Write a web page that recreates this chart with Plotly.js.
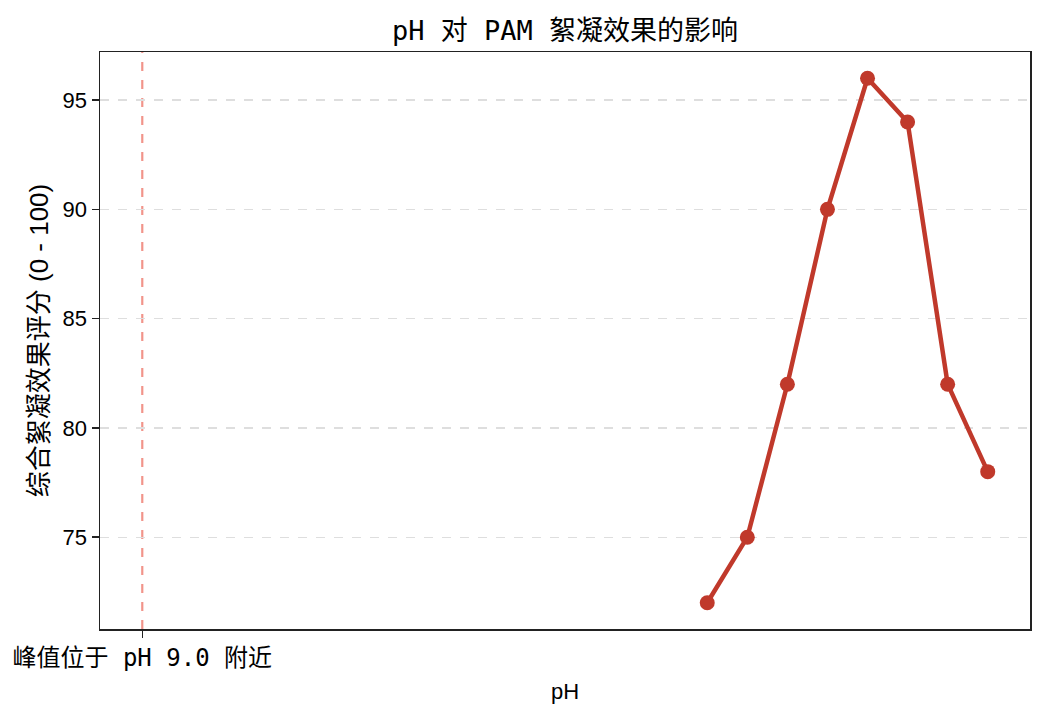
<!DOCTYPE html>
<html>
<head>
<meta charset="utf-8">
<script src="https://cdn.plot.ly/plotly-3.0.1.min.js"></script>
<style>
  body { margin: 0; background: #fff; }
  #chart { width: 1044px; height: 717px; }
</style>
</head>
<body>
<div id="chart"></div>
<script>
// pH test points and flocculation score
var phValues = [5, 6, 7, 8, 9, 10, 11, 12];
var scores = [72, 75, 82, 90, 96, 94, 82, 78];

// position of the peak marker line and its tick text
var peakLineX = -9.1;
var peakLabel = '峰值位于 pH 9.0 附近';

var yTicks = [75, 80, 85, 90, 95];

// monospace latin + CJK fallback, like SimHei
var mono = '"DejaVu Sans Mono", "Noto Sans CJK SC", monospace';
var sans = '"Liberation Sans", "Noto Sans CJK SC", sans-serif';

var curve = {
    type: 'scatter',
    x: phValues,
    y: scores,
    mode: 'lines+markers',
    line: { color: '#c0392b', width: 4.5 },
    marker: { color: '#c0392b', size: 15 },
    showlegend: false,
    hoverinfo: 'x+y'
};

var span = 12 - peakLineX;
var layout = {
    width: 1044,
    height: 717,
    margin: { l: 100, r: 14, t: 52, b: 88 },
    paper_bgcolor: '#fff',
    plot_bgcolor: '#fff',
    title: {
        text: 'pH 对 PAM 絮凝效果的影响',
        font: { family: mono, size: 27, color: '#000' },
        xref: 'paper', x: 0.5, xanchor: 'center',
        y: 0.958, yanchor: 'middle'
    },
    xaxis: {
        range: [peakLineX - span * 0.05, 12 + span * 0.05],
        tickvals: [peakLineX],
        ticktext: [peakLabel],
        tickfont: { family: mono, size: 24, color: '#000' },
        ticks: 'outside', ticklen: 7, tickwidth: 1.5, tickcolor: '#222',
        showgrid: false, zeroline: false,
        showline: true, mirror: true, linecolor: '#222', linewidth: 1.5,
        title: { text: 'pH', font: { family: sans, size: 22, color: '#000' }, standoff: 12 }
    },
    yaxis: {
        range: [70.8, 97.2],
        tickvals: yTicks,
        tickfont: { family: sans, size: 22, color: '#000' },
        ticks: 'outside', ticklen: 7, tickwidth: 1.5, tickcolor: '#222',
        showgrid: true, gridcolor: '#dedede', gridwidth: 1.3, griddash: 'dash',
        zeroline: false,
        showline: true, mirror: true, linecolor: '#222', linewidth: 1.5,
        title: { text: '综合絮凝效果评分 (0 - 100)', font: { family: sans, size: 26, color: '#000' }, standoff: 6 }
    },
    shapes: [{
        type: 'line',
        xref: 'x', yref: 'paper',
        x0: peakLineX, x1: peakLineX, y0: 0, y1: 1,
        line: { color: 'rgba(231, 76, 60, 0.6)', width: 2.2, dash: 'dash' },
        layer: 'below'
    }]
};

Plotly.newPlot('chart', [curve], layout, { displayModeBar: false, staticPlot: true });
</script>
</body>
</html>
